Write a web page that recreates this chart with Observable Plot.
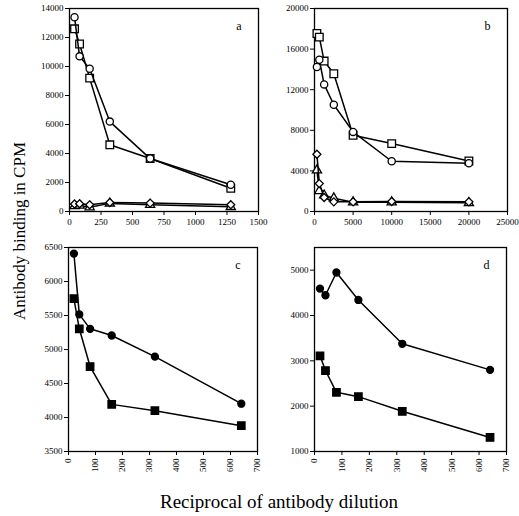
<!DOCTYPE html>
<html><head><meta charset="utf-8">
<script src="https://cdn.jsdelivr.net/npm/d3@7"></script>
<script src="https://cdn.jsdelivr.net/npm/@observablehq/plot@0.6"></script>
<style>
body{margin:0;background:#fff;}
#wrap{position:relative;width:519px;height:516px;font-family:"Liberation Serif",serif;background:#fff;}
.p{position:absolute;z-index:1;}
#wrap svg, #wrap svg text{font-family:"Liberation Serif",serif !important;}
#ylab{position:absolute;z-index:2;left:20px;top:231px;transform:translate(-50%,-50%) rotate(-90deg);white-space:nowrap;font-size:17px;}
#xlab{position:absolute;z-index:2;left:279px;top:502px;transform:translate(-50%,-50%);white-space:nowrap;font-size:19px;}
</style></head>
<body><div id="wrap"><div id="ylab">Antibody binding in CPM</div><div id="xlab">Reciprocal of antibody dilution</div></div>
<script>
// Panel a
const xA = [40, 80, 160, 320, 640, 1280];
const aCircle = [13400, 10700, 9850, 6200, 3650, 1850];
const aSquare = [12600, 11550, 9200, 4600, 3650, 1600];
const aDiamond = [520, 530, 460, 620, 580, 470];
const aTriangle = [380, 420, 300, 560, 460, 320];
// Panel b
const xB = [312.5, 625, 1250, 2500, 5000, 10000, 20000];
const bCircle = [14230, 14950, 12520, 10520, 7840, 4950, 4750];
const bSquare = [17540, 17180, 14820, 13570, 7510, 6690, 4980];
const bDiamond = [5640, 2750, 1380, 950, 950, 980, 950];
const bTriangle = [4070, 2030, 1600, 1310, 920, 920, 850];
// Panel c
const xC = [20, 40, 80, 160, 320, 640];
const cCircle = [6410, 5516, 5304, 5206, 4896, 4203];
const cSquare = [5747, 5304, 4749, 4193, 4100, 3879];
// Panel d
const xD = [20, 40, 80, 160, 320, 640];
const dCircle = [4594, 4447, 4948, 4343, 3376, 2801];
const dSquare = [3111, 2786, 2306, 2210, 1886, 1310];

const ticksA = {x: d3.range(0, 1501, 250), y: d3.range(0, 14001, 2000)};
const ticksB = {x: d3.range(0, 25001, 5000), y: d3.range(0, 20001, 4000)};
const ticksC = {x: d3.range(0, 701, 100), y: d3.range(3500, 6501, 500)};
const ticksD = {x: d3.range(0, 701, 100), y: d3.range(1000, 5001, 1000)};

function series(xs, ys, symbol, fill, r) {
  const data = xs.map((x, i) => ({x, y: ys[i]}));
  return [
    Plot.line(data, {x: "x", y: "y", stroke: "black", strokeWidth: 1.5}),
    Plot.dot(data, {x: "x", y: "y", symbol, r, fill, stroke: "black", strokeWidth: 1.3})
  ];
}

function panel(cfg) {
  const fmt = d3.format("d");
  const p = Plot.plot({
    width: cfg.w, height: cfg.h,
    marginLeft: cfg.ml, marginRight: cfg.mr, marginTop: cfg.mt, marginBottom: cfg.mb,
    style: {fontFamily: "'Liberation Serif', serif", fontSize: "9px", color: "black", background: "transparent", overflow: "visible"},
    x: {domain: cfg.xd, ticks: cfg.ticks.x, tickFormat: fmt, tickSize: 4, tickPadding: 3, label: null, tickRotate: cfg.rot || 0},
    y: {domain: cfg.yd, ticks: cfg.ticks.y, tickFormat: fmt, tickSize: 4, tickPadding: 2, label: null},
    marks: [
      Plot.frame({stroke: "black", strokeWidth: 1.3}),
      ...cfg.series.flatMap(s => series(s[0], s[1], s[2], s[3], s[4])),
      Plot.text([cfg.letter], {frameAnchor: "top-right", dx: -17, dy: 13, fontSize: 12, fill: "black"})
    ]
  });
  p.classList.add("p");
  p.style.left = cfg.left + "px";
  p.style.top = cfg.top + "px";
  document.getElementById("wrap").appendChild(p);
}

panel({left: 0, top: 0, w: 265, h: 235, ml: 69, mr: 7, mt: 8, mb: 24,
  xd: [0, 1500], yd: [0, 14000], ticks: ticksA, letter: "a",
  series: [
    [xA, aTriangle, "triangle", "white", 3.4],
    [xA, aDiamond, "diamond2", "white", 3.6],
    [xA, aSquare, "square", "white", 4.3],
    [xA, aCircle, "circle", "white", 3.6]
  ]});
panel({left: 265, top: 0, w: 254, h: 235, ml: 49, mr: 12, mt: 8, mb: 24,
  xd: [0, 25000], yd: [0, 20000], ticks: ticksB, letter: "b",
  series: [
    [xB, bTriangle, "triangle", "white", 3.4],
    [xB, bDiamond, "diamond2", "white", 3.6],
    [xB, bSquare, "square", "white", 4.3],
    [xB, bCircle, "circle", "white", 3.6]
  ]});
panel({left: 0, top: 235, w: 265, h: 245, ml: 68, mr: 8, mt: 12, mb: 29,
  xd: [0, 700], yd: [3500, 6500], ticks: ticksC, letter: "c", rot: -90,
  series: [
    [xC, cSquare, "square", "black", 4.2],
    [xC, cCircle, "circle", "black", 3.5]
  ]});
panel({left: 265, top: 235, w: 254, h: 245, ml: 49, mr: 13, mt: 12, mb: 29,
  xd: [0, 700], yd: [1000, 5500], ticks: ticksD, letter: "d", rot: -90,
  series: [
    [xD, dSquare, "square", "black", 4.2],
    [xD, dCircle, "circle", "black", 3.5]
  ]});
</script></body></html>
